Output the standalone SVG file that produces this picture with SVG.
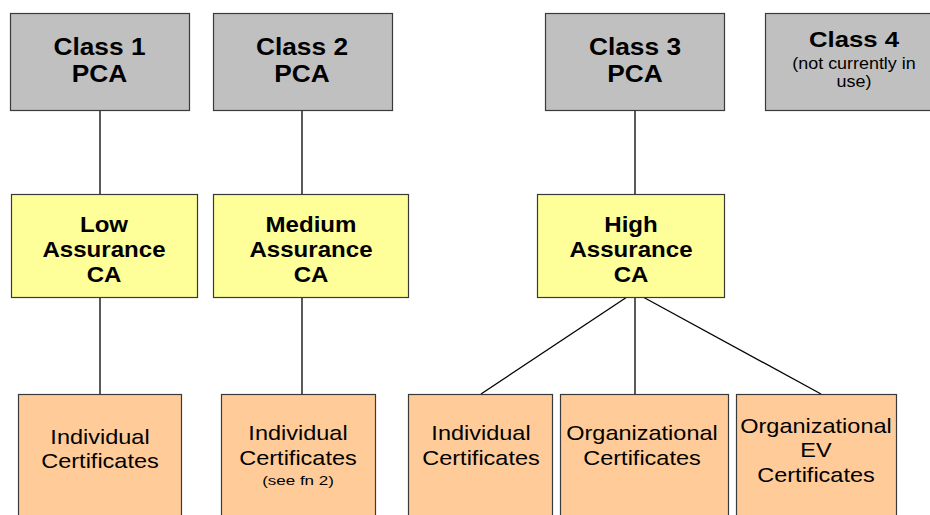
<svg xmlns="http://www.w3.org/2000/svg" width="930" height="515" viewBox="0 0 930 515">
<style>
.box{stroke:#3a3a3a;stroke-width:1.2}
.pca{fill:#C0C0C0}
.ca{fill:#FFFF99}
.cert{fill:#FFCC99}
.b{font-family:"Liberation Sans",Arial,sans-serif;font-weight:bold;fill:#000;text-anchor:middle}
.r{font-family:"Liberation Sans",Arial,sans-serif;fill:#000;text-anchor:middle}
.conn line{stroke:#000;stroke-width:1.3}
</style>
<rect width="930" height="515" fill="#fff"/>
<g class="conn">
<line x1="100" y1="110" x2="100" y2="194"/>
<line x1="302" y1="110" x2="302" y2="194"/>
<line x1="635" y1="110" x2="635" y2="194"/>
<line x1="100" y1="297" x2="100" y2="394"/>
<line x1="302" y1="297" x2="302" y2="394"/>
<line x1="627" y1="297" x2="481" y2="394"/>
<line x1="635" y1="297" x2="635" y2="394"/>
<line x1="643" y1="297" x2="821" y2="394"/>
</g>
<g id="class1">
<rect class="box pca" x="10.5" y="13.5" width="179" height="97"/>
<g transform="translate(99.5 0) scale(1.12 1)"><text class="b" font-size="23.5" x="0" y="55">Class 1</text><text class="b" font-size="23.5" x="0" y="82">PCA</text></g>
</g>
<g id="class2">
<rect class="box pca" x="213.5" y="13.5" width="179" height="97"/>
<g transform="translate(302 0) scale(1.12 1)"><text class="b" font-size="23.5" x="0" y="55">Class 2</text><text class="b" font-size="23.5" x="0" y="82">PCA</text></g>
</g>
<g id="class3">
<rect class="box pca" x="545.5" y="13.5" width="179" height="97"/>
<g transform="translate(635 0) scale(1.12 1)"><text class="b" font-size="23.5" x="0" y="55">Class 3</text><text class="b" font-size="23.5" x="0" y="82">PCA</text></g>
</g>
<g id="class4">
<rect class="box pca" x="765.5" y="13.5" width="180" height="97"/>
<g transform="translate(854 0) scale(1.12 1)"><text class="b" font-size="23" x="0" y="47">Class 4</text><text class="r" font-size="16" x="0" y="69">(not currently in</text><text class="r" font-size="16" x="0" y="87">use)</text></g>
</g>
<g id="low">
<rect class="box ca" x="11.5" y="194.5" width="186" height="103"/>
<g transform="translate(104 0) scale(1.12 1)"><text class="b" font-size="21.5" x="0" y="232">Low</text><text class="b" font-size="21.5" x="0" y="257">Assurance</text><text class="b" font-size="21.5" x="0" y="282">CA</text></g>
</g>
<g id="medium">
<rect class="box ca" x="213.5" y="194.5" width="195" height="103"/>
<g transform="translate(311 0) scale(1.12 1)"><text class="b" font-size="21.5" x="0" y="232">Medium</text><text class="b" font-size="21.5" x="0" y="257">Assurance</text><text class="b" font-size="21.5" x="0" y="282">CA</text></g>
</g>
<g id="high">
<rect class="box ca" x="537.5" y="194.5" width="187" height="103"/>
<g transform="translate(631 0) scale(1.12 1)"><text class="b" font-size="21.5" x="0" y="232">High</text><text class="b" font-size="21.5" x="0" y="257">Assurance</text><text class="b" font-size="21.5" x="0" y="282">CA</text></g>
</g>
<g id="cert1">
<rect class="box cert" x="18.5" y="394.5" width="163" height="130"/>
<g transform="translate(100 0) scale(1.12 1)"><text class="r" font-size="21" x="0" y="444">Individual</text><text class="r" font-size="21" x="0" y="468">Certificates</text></g>
</g>
<g id="cert2">
<rect class="box cert" x="221.5" y="394.5" width="154" height="130"/>
<g transform="translate(298 0) scale(1.12 1)"><text class="r" font-size="21" x="0" y="440">Individual</text><text class="r" font-size="21" x="0" y="465">Certificates</text><text class="r" font-size="13.5" x="0" y="485" textLength="64" lengthAdjust="spacingAndGlyphs">(see fn 2)</text></g>
</g>
<g id="cert3">
<rect class="box cert" x="408.5" y="394.5" width="144" height="130"/>
<g transform="translate(481 0) scale(1.12 1)"><text class="r" font-size="21" x="0" y="440">Individual</text><text class="r" font-size="21" x="0" y="465">Certificates</text></g>
</g>
<g id="cert4">
<rect class="box cert" x="560.5" y="394.5" width="168" height="130"/>
<g transform="translate(642 0) scale(1.12 1)"><text class="r" font-size="21" x="0" y="440">Organizational</text><text class="r" font-size="21" x="0" y="465">Certificates</text></g>
</g>
<g id="cert5">
<rect class="box cert" x="736.5" y="394.5" width="160" height="130"/>
<g transform="translate(816 0) scale(1.12 1)"><text class="r" font-size="21" x="0" y="433">Organizational</text><text class="r" font-size="21" x="0" y="457">EV</text><text class="r" font-size="21" x="0" y="482">Certificates</text></g>
</g>
</svg>
